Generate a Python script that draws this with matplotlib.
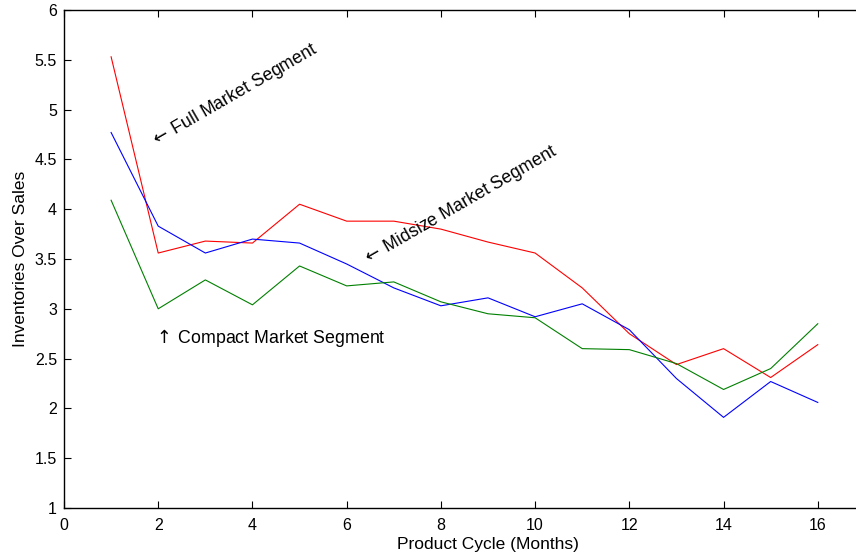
import matplotlib.pyplot as plt
import numpy as np

plt.rcParams['font.family'] = ['Liberation Sans', 'DejaVu Sans']
plt.rcParams['mathtext.fontset'] = 'dejavusans'

months = np.arange(1, 17)
full_segment = [5.53, 3.56, 3.68, 3.66, 4.05, 3.88, 3.88, 3.80, 3.67, 3.56,
                3.21, 2.75, 2.44, 2.60, 2.31, 2.64]
midsize_segment = [4.77, 3.83, 3.56, 3.70, 3.66, 3.45, 3.21, 3.03, 3.11, 2.92,
                   3.05, 2.79, 2.30, 1.91, 2.27, 2.06]
compact_segment = [4.09, 3.00, 3.29, 3.04, 3.43, 3.23, 3.27, 3.07, 2.95, 2.91,
                   2.60, 2.59, 2.45, 2.19, 2.40, 2.85]

x_ticks = [0, 2, 4, 6, 8, 10, 12, 14, 16]
y_ticks = [1, 1.5, 2, 2.5, 3, 3.5, 4, 4.5, 5, 5.5, 6]
y_tick_labels = ['1', '1.5', '2', '2.5', '3', '3.5', '4', '4.5', '5', '5.5', '6']

fig = plt.figure(figsize=(8.56, 5.56), dpi=100)
# оси шире картинки: правый край обрезан, как в оригинале
ax = fig.add_axes([64 / 856, 48 / 556, 848 / 856, 498 / 556])

ax.plot(months, full_segment, color='#ff0000', linewidth=0.8)
ax.plot(months, midsize_segment, color='#0000ff', linewidth=0.8)
ax.plot(months, compact_segment, color='#008000', linewidth=0.8)

ax.text(1.86, 4.67, r'$\leftarrow\,$Full Market Segment', rotation=30,
        rotation_mode='anchor', ha='left', va='center', fontsize=12.8)
ax.text(6.36, 3.48, r'$\leftarrow\,$Midsize Market Segment', rotation=30,
        rotation_mode='anchor', ha='left', va='center', fontsize=12.8)
ax.text(1.88, 2.71, r'$\uparrow\,$Compact Market Segment',
        ha='left', va='center', fontsize=12.8)

ax.set_xlim(0, 18)
ax.set_ylim(1, 6)
ax.set_xticks(x_ticks)
ax.set_yticks(y_ticks)
ax.set_yticklabels(y_tick_labels)
ax.tick_params(direction='in', length=5, width=0.8, labelsize=11.5,
               top=True, right=True, pad=5)
ax.tick_params(axis='x', pad=7)
for side in ax.spines.values():
    side.set_linewidth(1.0)

ax.set_xlabel('Product Cycle (Months)', fontsize=12.5, labelpad=3)
ax.set_ylabel('Inventories Over Sales', fontsize=12.5, labelpad=5)

plt.savefig('out.png', dpi=100)
